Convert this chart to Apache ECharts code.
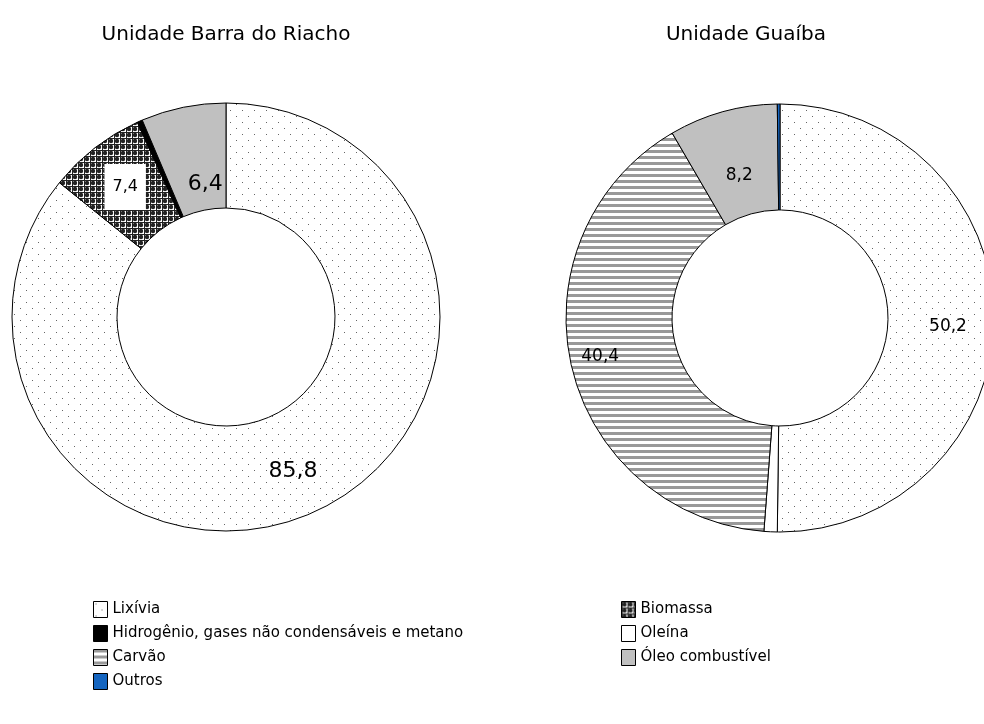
<!DOCTYPE html>
<html>
<head>
<meta charset="utf-8">
<script src="https://cdn.jsdelivr.net/npm/echarts@6/dist/echarts.min.js"></script>
<style>
html, body { margin: 0; padding: 0; background: #fff; }
#main { width: 984px; height: 724px; }
</style>
</head>
<body>
<div id="main"></div>
<script>
var titles = ['Unidade Barra do Riacho', 'Unidade Guaíba'];
var legendLeft = ['Lixívia', 'Hidrogênio, gases não condensáveis e metano', 'Carvão', 'Outros'];
var legendRight = ['Biomassa', 'Oleína', 'Óleo combustível'];

var barraNames = ['Lixívia', 'Biomassa', 'Hidrogênio, gases não condensáveis e metano', 'Óleo combustível'];
var barraValues = [85.8, 7.4, 0.4, 6.4];

var guaibaNames = ['Lixívia', 'Oleína', 'Carvão', 'Óleo combustível', 'Outros'];
var guaibaValues = [50.2, 1.0, 40.4, 8.2, 0.2];

function tile(w, h, draw) {
  var c = document.createElement('canvas');
  c.width = w; c.height = h;
  draw(c.getContext('2d'));
  return { image: c, repeat: 'repeat' };
}

var dots = tile(12, 12, function (g) {
  g.fillStyle = '#fff'; g.fillRect(0, 0, 12, 12);
  g.fillStyle = '#666';
  g.fillRect(2, 2, 1, 1);
  g.fillRect(8, 8, 1, 1);
});
var stripes = tile(6, 6, function (g) {
  g.fillStyle = '#fff'; g.fillRect(0, 0, 6, 6);
  g.fillStyle = '#999'; g.fillRect(0, 0, 6, 3);
});
var checks = tile(6, 6, function (g) {
  g.fillStyle = '#fff'; g.fillRect(0, 0, 6, 6);
  g.fillStyle = '#222';
  g.beginPath(); g.arc(3, 3, 2.2, 0, Math.PI * 2); g.fill();
  g.fillRect(0, 0, 1, 6); g.fillRect(0, 0, 6, 1);
});

var colors = {
  'Lixívia': dots,
  'Hidrogênio, gases não condensáveis e metano': '#000',
  'Carvão': stripes,
  'Outros': '#1565c0',
  'Biomassa': checks,
  'Oleína': '#fff',
  'Óleo combustível': '#c0c0c0'
};

function fmt(v) { return String(v.toFixed(1)).replace('.', ','); }

function items(names, values, labelStyles) {
  return names.map(function (n, i) {
    var it = { name: n, value: values[i], itemStyle: { color: colors[n] } };
    it.label = labelStyles[i] || { show: false };
    return it;
  });
}

var barraLabels = [
  { fontSize: 22, offset: [-4, 6] },
  { fontSize: 16, backgroundColor: '#fff', padding: [15, 8] },
  null,
  { fontSize: 22, offset: [12, 28] }
];
var guaibaLabels = [
  { fontSize: 17, offset: [4, 8] },
  null,
  { fontSize: 17, offset: [-20, 2] },
  { fontSize: 17, offset: [3, 16] },
  null
];

var chart = echarts.init(document.getElementById('main'));
chart.setOption({
  animation: false,
  textStyle: { fontFamily: 'DejaVu Sans' },
  title: [
    { text: titles[0], left: 221, top: 20, textAlign: 'center',
      textStyle: { fontSize: 20, fontWeight: 'normal', color: '#000' } },
    { text: titles[1], left: 741, top: 20, textAlign: 'center',
      textStyle: { fontSize: 20, fontWeight: 'normal', color: '#000' } }
  ],
  legend: [
    { data: legendLeft, orient: 'vertical', left: 88, top: 596, itemWidth: 14, itemHeight: 16,
      itemGap: 7, icon: 'rect', textStyle: { fontSize: 15, color: '#000' },
      itemStyle: { borderColor: '#000', borderWidth: 1 } },
    { data: legendRight, orient: 'vertical', left: 616, top: 596, itemWidth: 14, itemHeight: 16,
      itemGap: 7, icon: 'rect', textStyle: { fontSize: 15, color: '#000' },
      itemStyle: { borderColor: '#000', borderWidth: 1 } }
  ],
  series: [
    {
      type: 'pie', name: titles[0], center: [226, 317], radius: [109, 214],
      clockwise: true, startAngle: 90, selectedMode: false, silent: true,
      itemStyle: { borderColor: '#000', borderWidth: 1 },
      label: { position: 'inside', color: '#000', formatter: function (p) { return fmt(p.value); } },
      labelLine: { show: false },
      data: items(barraNames, barraValues, barraLabels)
    },
    {
      type: 'pie', name: titles[1], center: [780, 318], radius: [108, 214],
      clockwise: true, startAngle: 90, selectedMode: false, silent: true,
      itemStyle: { borderColor: '#000', borderWidth: 1 },
      label: { position: 'inside', color: '#000', formatter: function (p) { return fmt(p.value); } },
      labelLine: { show: false },
      data: items(guaibaNames, guaibaValues, guaibaLabels)
    }
  ]
});
</script>
</body>
</html>
